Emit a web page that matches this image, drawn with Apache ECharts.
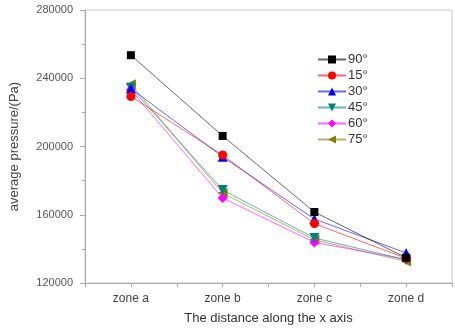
<!DOCTYPE html>
<html>
<head>
<meta charset="utf-8">
<script src="https://cdn.jsdelivr.net/npm/echarts@6/dist/echarts.min.js"></script>
<style>
  html, body { margin: 0; padding: 0; background: #fff; }
  #chart { width: 455px; height: 328px; }
</style>
</head>
<body>
<div id="chart"></div>
<script>
// categories along the x axis
var zones = ['zone a', 'zone b', 'zone c', 'zone d'];
// angle series (Pa)
var names = ['90°', '15°', '30°', '45°', '60°', '75°'];
var p90 = [253500, 206200, 161600, 134800];
var p15 = [229300, 195000, 154800, 134500];
var p30 = [234000, 194000, 157500, 137600];
var p45 = [234500, 174500, 146400, 133600];
var p60 = [233200, 169800, 143800, 133800];
var p75 = [236500, 172700, 145300, 132600];
var yTicks = [120000, 160000, 200000, 240000, 280000];

var colors = ['#000000', '#ff0000', '#0000ff', '#008080', '#ff00ff', '#808000'];
var symbols = ['rect', 'circle', 'triangle', 'triangle', 'diamond', 'triangle'];
var rotates = [0, 0, 0, 180, 0, 90];
var values = [p90, p15, p30, p45, p60, p75];

var chart = echarts.init(document.getElementById('chart'));

var series = names.map(function (n, i) {
  return {
    name: n,
    type: 'line',
    data: values[i].map(function (v, k) { return [k + 1, v]; }),
    symbol: symbols[i],
    symbolSize: symbols[i] === 'circle' ? 9 : (symbols[i] === 'rect' ? 8 : 10),
    symbolRotate: rotates[i],
    itemStyle: { color: colors[i] },
    lineStyle: { color: colors[i], width: 1, opacity: 0.6 },
    z: 10 - i
  };
});

chart.setOption({
  animation: false,
  textStyle: { fontFamily: 'Liberation Sans, Arial, sans-serif' },
  grid: {
    left: 85, top: 10, right: 3, bottom: 45,
    outerBoundsMode: 'none', containLabel: false,
    show: true, borderColor: '#c8c8c8', borderWidth: 1
  },
  legend: {
    orient: 'vertical',
    left: 312, top: 48,
    itemWidth: 28, itemHeight: 10, itemGap: 3,
    textStyle: { fontSize: 13, color: '#333', padding: [0, 0, 0, -3] },
    data: names
  },
  xAxis: {
    type: 'value',
    min: 0.5, max: 4.5, interval: 0.5,
    name: 'The distance along the x axis',
    nameLocation: 'middle', nameGap: 29,
    nameTextStyle: { fontSize: 13, color: '#333' },
    axisLine: { lineStyle: { color: '#aaa' } },
    axisTick: { length: 4, lineStyle: { color: '#aaa' } },
    splitLine: { show: false },
    axisLabel: {
      fontSize: 12, color: '#444', margin: 10,
      formatter: function (v) {
        return Number.isInteger(v) ? zones[v - 1] : '';
      }
    }
  },
  yAxis: {
    type: 'value',
    min: yTicks[0], max: yTicks[yTicks.length - 1], interval: 40000,
    name: 'average pressure/(Pa)',
    nameLocation: 'middle', nameGap: 64,
    nameTextStyle: { fontSize: 13, color: '#444' },
    axisLine: { show: true, lineStyle: { color: '#aaa' } },
    axisTick: { show: true, length: 5, lineStyle: { color: '#aaa' } },
    minorTick: { show: true, splitNumber: 2, length: 3, lineStyle: { color: '#aaa' } },
    splitLine: { show: false },
    axisLabel: { fontSize: 11, color: '#555', margin: 12, formatter: function (v) { return String(v); } }
  },
  series: series
});
</script>
</body>
</html>
